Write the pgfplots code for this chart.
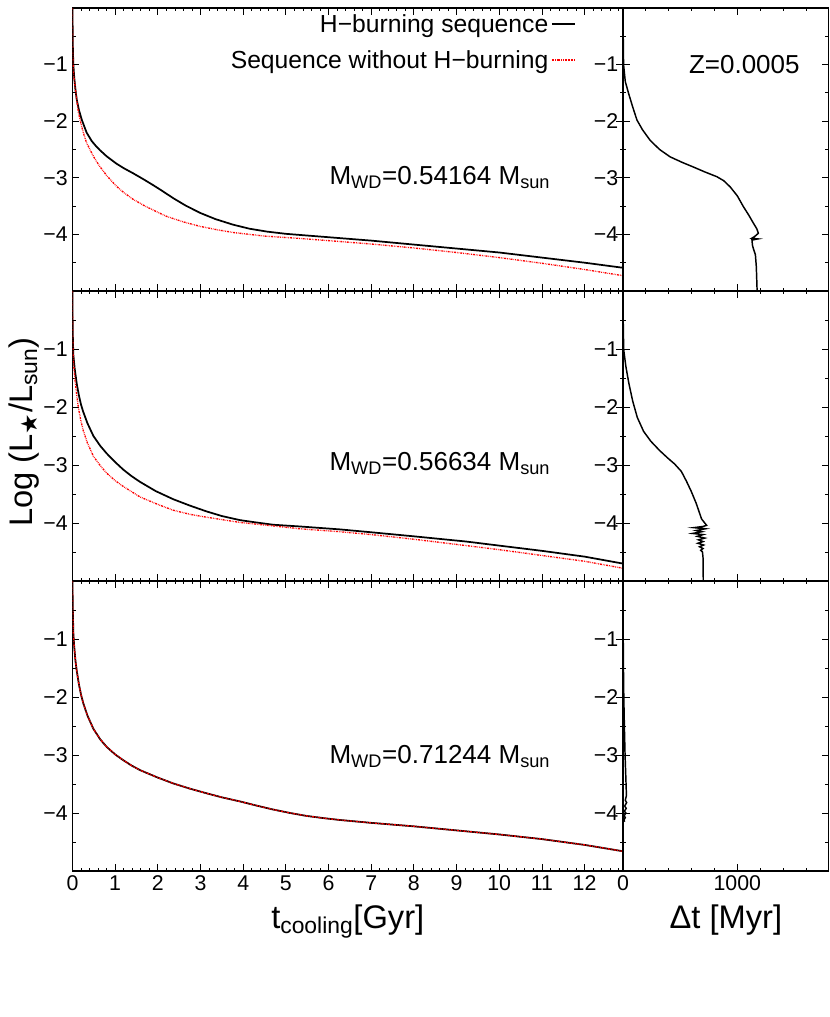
\documentclass[border=0pt]{standalone}
\usepackage{fontspec}
\setmainfont{Liberation Sans}
\newfontfamily\starfont{DejaVu Sans}
\usepackage{pgfplots}
\pgfplotsset{compat=1.18}

\newcommand\ticks{\fontsize{16}{18}\selectfont}
\newcommand\legfont{\fontsize{18.5}{22}\selectfont}
\newcommand\annfont{\fontsize{19.5}{23}\selectfont}
\newcommand\labfont{\fontsize{24.5}{28}\selectfont}

\pgfplotsset{
  panel/.style={
    scale only axis, anchor=south west,
    ymin=-5, ymax=0, xmin=0,
    ytick={-4,-3,-2,-1}, yticklabels={−4,−3,−2,−1},
    minor ytick={-4.5,-3.5,-2.5,-1.5,-0.5},
    tick align=inside, major tick length=5pt, minor tick length=2.5pt,
    axis line style={line width=0.9pt},
    every tick/.append style={line width=0.6pt, black},
    tick label style={font=\ticks},
    /pgf/number format/assume math mode=true,
  },
  leftpanel/.style={panel, width=412.875pt, xmax=12.9,
    xtick={0,...,12}, minor xtick={0.2,0.4,...,12.8}},
  rightpanel/.style={panel, width=154.35pt, xmax=1800,
    xtick={0,1000}, minor xtick={200,400,600,800,1200,1400,1600,1800}},
  hburn/.style={black, line width=1.3pt},
  noburn/.style={red, line width=1pt,
    dash pattern=on 1.5pt off 0.75pt on 0.5pt off 0.75pt on 0.5pt off 0.75pt},
  dtline/.style={black, line width=1.1pt},
}

\begin{document}
\begin{tikzpicture}
\path[use as bounding box] (0,0) rectangle (622.5pt,762.75pt);

% ---------- top row: M = 0.54164 ----------
\begin{axis}[leftpanel, at={(54.375pt,544.5pt)}, height=212.25pt, xticklabels={},
  legend style={draw=none, fill=none, inner sep=0pt, at={(axis cs:11.79,-0.06)},
    anchor=north east, font=\legfont, row sep=8pt, nodes={inner sep=2pt}},
  legend cell align=right, legend plot pos=right,
  legend image code/.code={\draw[#1] (0pt,0pt) -- (17pt,0pt);}]
\addplot[hburn] coordinates {
  (0,0) (0.005,-0.5) (0.01,-0.75) (0.02,-1.0) (0.04,-1.22) (0.07,-1.45)
  (0.1,-1.62) (0.15,-1.8) (0.22,-1.98) (0.33,-2.2) (0.45,-2.35) (0.55,-2.44)
  (0.64,-2.51) (0.8,-2.62) (1.03,-2.75) (1.2,-2.83) (1.42,-2.92) (1.65,-3.02)
  (1.89,-3.13) (2.1,-3.23) (2.36,-3.36) (2.65,-3.49) (2.99,-3.62) (3.35,-3.73)
  (3.77,-3.83) (4.15,-3.9) (4.55,-3.95) (5.0,-3.99) (5.33,-4.01) (6,-4.05)
  (7,-4.11) (8,-4.18) (9,-4.25) (10,-4.32) (11,-4.41) (12,-4.50) (12.9,-4.59)};
\addlegendentry{H−burning sequence}
\addplot[noburn] coordinates {
  (0,0) (0.003,-0.6) (0.01,-0.95) (0.03,-1.2) (0.06,-1.38) (0.1,-1.63)
  (0.14,-1.85) (0.2,-2.05) (0.26,-2.22) (0.33,-2.38) (0.42,-2.52) (0.52,-2.66)
  (0.64,-2.8) (0.8,-2.96) (1.03,-3.15) (1.2,-3.26) (1.42,-3.38) (1.7,-3.5)
  (2.0,-3.61) (2.2,-3.68) (2.6,-3.78) (3.0,-3.86) (3.4,-3.92) (3.8,-3.97)
  (4.5,-4.03) (5.3,-4.07) (6,-4.11) (7,-4.17) (8,-4.24) (9,-4.32)
  (10,-4.41) (11,-4.51) (12,-4.62) (12.9,-4.73)};
\addlegendentry{Sequence without H−burning}
\node[anchor=base, font=\annfont] at (axis cs:8.61,-3.11)
  {M\textsubscript{WD}=0.54164 M\textsubscript{sun}};
\end{axis}

\begin{axis}[rightpanel, at={(467.25pt,544.5pt)}, height=212.25pt, xticklabels={}]
\addplot[dtline] coordinates {
  (0,0) (2,-0.5) (5,-1.0) (20,-1.3) (49,-1.51) (85,-1.75) (122,-1.98)
  (170,-2.15) (238,-2.34) (320,-2.5) (412,-2.63) (520,-2.73) (616,-2.81)
  (720,-2.9) (820,-2.98) (880,-3.05) (937,-3.16) (1000,-3.32) (1053,-3.51)
  (1100,-3.66) (1140,-3.8) (1170,-3.9) (1184,-3.98) (1150,-4.04) (1125,-4.07)
  (1180,-4.08) (1128,-4.10) (1132,-4.19) (1140,-4.25) (1145,-4.28)
  (1158,-4.36) (1166,-4.57) (1173,-5.0)};
\node[anchor=base, font=\annfont] at (axis cs:1061,-1.16) {Z=0.0005};
\end{axis}

% ---------- middle row: M = 0.56634 ----------
\begin{axis}[leftpanel, at={(54.375pt,327pt)}, height=217.5pt, xticklabels={},
  ylabel={Log (L\textsubscript{\starfont ★}/L\textsubscript{sun})},
  ylabel style={font=\labfont, inner sep=0pt, at={(rel axis cs:0,0.514)},
    anchor=south, yshift=25pt}]
\addplot[hburn] coordinates {
  (0,0) (0.003,-0.5) (0.01,-0.85) (0.02,-1.1) (0.05,-1.33) (0.1,-1.6)
  (0.15,-1.8) (0.2,-1.96) (0.25,-2.08) (0.35,-2.28) (0.49,-2.5) (0.65,-2.67)
  (0.8,-2.8) (1.0,-2.95) (1.19,-3.08) (1.38,-3.19) (1.58,-3.29) (1.95,-3.45)
  (2.36,-3.59) (2.75,-3.7) (3.14,-3.8) (3.5,-3.88) (3.92,-3.95) (4.3,-3.99)
  (4.7,-4.03) (5.33,-4.06) (6.26,-4.11) (7,-4.16) (8,-4.23) (9.23,-4.32)
  (10,-4.39) (11,-4.48) (12,-4.58) (12.9,-4.70)};
\addplot[noburn] coordinates {
  (0,0) (0.003,-0.6) (0.01,-1.0) (0.03,-1.3) (0.06,-1.55) (0.1,-1.8)
  (0.14,-2.02) (0.2,-2.25) (0.25,-2.4) (0.35,-2.62) (0.49,-2.85) (0.65,-3.01)
  (0.8,-3.14) (1.0,-3.27) (1.19,-3.37) (1.58,-3.55) (2.0,-3.68) (2.36,-3.78)
  (2.75,-3.85) (3.14,-3.9) (3.92,-3.99) (4.7,-4.05) (5.33,-4.1) (6.26,-4.15)
  (7,-4.2) (8,-4.28) (9.23,-4.39) (10,-4.46) (11,-4.56) (12,-4.66) (12.9,-4.78)};
\node[anchor=base, font=\annfont] at (axis cs:8.61,-3.10)
  {M\textsubscript{WD}=0.56634 M\textsubscript{sun}};
\end{axis}

\begin{axis}[rightpanel, at={(467.25pt,327pt)}, height=217.5pt, xticklabels={}]
\addplot[dtline] coordinates {
  (0,0) (1,-0.42) (6,-1.01) (25,-1.3) (51,-1.59) (85,-1.9) (125,-2.18)
  (180,-2.42) (243,-2.59) (320,-2.75) (391,-2.88) (450,-2.98) (510,-3.11)
  (555,-3.28) (598,-3.46) (640,-3.66) (687,-3.93) (731,-4.04)
  (700,-4.06) (620,-4.08) (720,-4.10) (640,-4.13) (690,-4.15) (610,-4.18)
  (700,-4.20) (650,-4.23) (715,-4.26) (660,-4.29) (700,-4.32) (655,-4.35)
  (705,-4.38) (670,-4.41) (700,-4.44) (680,-4.47) (695,-4.5) (700,-4.6)
  (702,-5.0)};
\end{axis}

% ---------- bottom row: M = 0.71244 ----------
\begin{axis}[leftpanel, at={(54.375pt,109.5pt)}, height=217.5pt,
  xlabel={t\textsubscript{cooling}[Gyr]},
  xlabel style={font=\labfont, inner sep=0pt, at={(rel axis cs:0.5,0)},
    anchor=north, yshift=-25pt}]
\addplot[hburn] coordinates {
  (0,0) (0.005,-0.4) (0.02,-0.9) (0.04,-1.13) (0.07,-1.38) (0.1,-1.55)
  (0.15,-1.78) (0.2,-1.96) (0.25,-2.1) (0.35,-2.32) (0.49,-2.55) (0.65,-2.73)
  (0.8,-2.86) (1.0,-2.99) (1.19,-3.09) (1.38,-3.18) (1.58,-3.26) (2.0,-3.39)
  (2.36,-3.49) (2.75,-3.58) (3.14,-3.66) (3.5,-3.73) (3.92,-3.8) (4.3,-3.87)
  (4.7,-3.94) (5.1,-4.0) (5.48,-4.05) (5.9,-4.09) (6.26,-4.12) (7,-4.17)
  (8,-4.23) (9,-4.3) (10,-4.37) (11,-4.45) (12,-4.55) (12.9,-4.66)};
\addplot[noburn] coordinates {
  (0,0) (0.005,-0.4) (0.02,-0.9) (0.04,-1.13) (0.07,-1.38) (0.1,-1.55)
  (0.15,-1.78) (0.2,-1.96) (0.25,-2.1) (0.35,-2.32) (0.49,-2.55) (0.65,-2.73)
  (0.8,-2.86) (1.0,-2.99) (1.19,-3.09) (1.38,-3.18) (1.58,-3.26) (2.0,-3.39)
  (2.36,-3.49) (2.75,-3.58) (3.14,-3.66) (3.5,-3.73) (3.92,-3.8) (4.3,-3.87)
  (4.7,-3.94) (5.1,-4.0) (5.48,-4.05) (5.9,-4.09) (6.26,-4.12) (7,-4.17)
  (8,-4.23) (9,-4.3) (10,-4.37) (11,-4.45) (12,-4.55) (12.9,-4.66)};
\node[anchor=base, font=\annfont] at (axis cs:8.61,-3.14)
  {M\textsubscript{WD}=0.71244 M\textsubscript{sun}};
\end{axis}

\begin{axis}[rightpanel, at={(467.25pt,109.5pt)}, height=217.5pt,
  xticklabels={0,1000},
  xlabel={Δt [Myr]},
  xlabel style={font=\labfont, inner sep=0pt, at={(rel axis cs:0.5,0)},
    anchor=north, yshift=-25pt}]
\addplot[dtline] coordinates {
  (0,0) (1,-0.5) (2,-1) (4,-1.5) (7,-2) (12,-2.5) (18,-3) (25,-3.4) (30,-3.7)
  (20,-3.78) (32,-3.82) (15,-3.88) (28,-3.92) (12,-3.97) (25,-4.0) (10,-4.05)
  (20,-4.08) (8,-4.12) (15,-4.15)};
\end{axis}
\end{tikzpicture}
\end{document}
